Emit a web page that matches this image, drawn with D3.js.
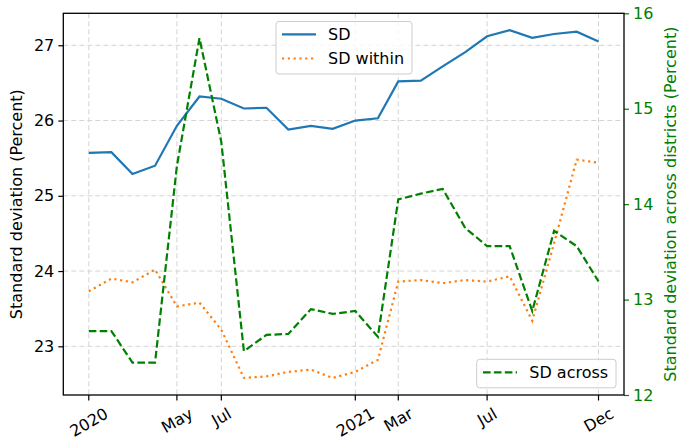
<!DOCTYPE html>
<html>
<head>
<meta charset="utf-8">
<script src="https://cdn.jsdelivr.net/npm/d3@7"></script>
<style>
  body { margin: 0; background: #fff; }
  svg { font-family: "DejaVu Sans", sans-serif; }
</style>
</head>
<body>
<div id="container"></div>
<script>
// monthly values
const months = ['2020-01', '2020-02', '2020-03', '2020-04', '2020-05', '2020-06',
  '2020-07', '2020-08', '2020-09', '2020-10', '2020-11', '2020-12',
  '2021-01', '2021-02', '2021-03', '2021-04', '2021-05', '2021-06',
  '2021-07', '2021-08', '2021-09', '2021-10', '2021-11', '2021-12']

const sd = [25.57, 25.58, 25.29, 25.40, 25.93, 26.32, 26.29, 26.16, 26.17, 25.88, 25.93, 25.89,
  26.00, 26.03, 26.52, 26.53, 26.72, 26.91, 27.12, 27.20, 27.10, 27.15, 27.18, 27.05]

const sdWithin = [23.73, 23.90, 23.85, 24.02, 23.53, 23.58, 23.22, 22.58, 22.60, 22.66, 22.69, 22.58,
  22.66, 22.82, 23.86, 23.88, 23.84, 23.88, 23.86, 23.93, 23.34, 24.37, 25.48, 25.44]

const sdAcross = [12.67, 12.67, 12.34, 12.34, 14.40, 15.74, 14.65, 12.46, 12.63, 12.64, 12.90, 12.85,
  12.88, 12.61, 14.05, 14.11, 14.16, 13.75, 13.56, 13.56, 12.88, 13.72, 13.56, 13.19]

const tickMonths = ['2020-01', '2020-05', '2020-07', '2021-01', '2021-03', '2021-07', '2021-12']
const tickLabels = ['2020', 'May', 'Jul', '2021', 'Mar', 'Jul', 'Dec']
const leftTicks = [23, 24, 25, 26, 27]
const rightTicks = [12, 13, 14, 15, 16]

const parseMonth = d3.timeParse('%Y-%m')

function displayChart() {
  const margin = { top: 13.3, right: 56, bottom: 45, left: 63.3 },
    W = 680, H = 440,
    width = W - margin.left - margin.right,
    height = H - margin.top - margin.bottom

  const dates = months.map(parseMonth)

  // matplotlib style 5% margins on the time axis
  const pad = 35
  const x = d3.scaleTime()
    .domain([d3.timeDay.offset(dates[0], -pad), d3.timeDay.offset(dates[dates.length - 1], pad)])
    .range([margin.left, margin.left + width])

  const yLeft = d3.scaleLinear()
    .domain([22.353, 27.425])
    .range([margin.top + height, margin.top])

  const yRight = d3.scaleLinear()
    .domain([12, 16])
    .range([margin.top + height, margin.top])

  const svg = d3.select('#container').append('svg')
    .attr('width', W)
    .attr('height', H)

  // grid
  const grid = svg.append('g').attr('id', 'grid')
  tickMonths.forEach(m => {
    grid.append('line')
      .attr('x1', x(parseMonth(m))).attr('x2', x(parseMonth(m)))
      .attr('y1', margin.top).attr('y2', margin.top + height)
      .attr('stroke', '#d4d4d4').attr('stroke-width', 1)
      .attr('stroke-dasharray', '5,3')
  })
  leftTicks.forEach(v => {
    grid.append('line')
      .attr('x1', margin.left).attr('x2', margin.left + width)
      .attr('y1', yLeft(v)).attr('y2', yLeft(v))
      .attr('stroke', '#d4d4d4').attr('stroke-width', 1)
      .attr('stroke-dasharray', '5,3')
  })

  // lines
  const lineLeft = d3.line()
    .x((d, i) => x(dates[i]))
    .y(d => yLeft(d))
  const lineRight = d3.line()
    .x((d, i) => x(dates[i]))
    .y(d => yRight(d))

  svg.append('path')
    .attr('d', lineLeft(sd))
    .attr('fill', 'none')
    .attr('stroke', '#1f77b4')
    .attr('stroke-width', 2.2)

  svg.append('path')
    .attr('d', lineLeft(sdWithin))
    .attr('fill', 'none')
    .attr('stroke', '#ff7f0e')
    .attr('stroke-width', 2.2)
    .attr('stroke-dasharray', '2.2,3.6')

  svg.append('path')
    .attr('d', lineRight(sdAcross))
    .attr('fill', 'none')
    .attr('stroke', 'green')
    .attr('stroke-width', 2.2)
    .attr('stroke-dasharray', '7.6,3.3')

  // axes
  const leftAxis = svg.append('g')
    .attr('transform', `translate(${margin.left},0)`)
    .call(d3.axisLeft(yLeft).tickValues(leftTicks).tickSize(5).tickPadding(4).tickFormat(d3.format('d')))
  leftAxis.select('.domain').remove()
  leftAxis.selectAll('text').attr('font-size', 16).attr('fill', '#000')
    .attr('font-family', '"DejaVu Sans", sans-serif')
  leftAxis.selectAll('line').attr('stroke-width', 1.2)

  const rightAxis = svg.append('g')
    .attr('transform', `translate(${margin.left + width},0)`)
    .call(d3.axisRight(yRight).tickValues(rightTicks).tickSize(5).tickPadding(4).tickFormat(d3.format('d')))
  rightAxis.select('.domain').remove()
  rightAxis.selectAll('text').attr('font-size', 16).attr('fill', 'green')
    .attr('font-family', '"DejaVu Sans", sans-serif')
  rightAxis.selectAll('line').attr('stroke', 'green').attr('stroke-width', 1.2)

  // bottom ticks with rotated labels
  const bottom = svg.append('g').attr('id', 'xaxis')
  tickMonths.forEach((m, i) => {
    const tx = x(parseMonth(m))
    bottom.append('line')
      .attr('x1', tx).attr('x2', tx)
      .attr('y1', margin.top + height).attr('y2', margin.top + height + 5.5)
      .attr('stroke', '#000').attr('stroke-width', 1.2)
    const t = bottom.append('text')
      .attr('font-size', 16)
      .attr('text-anchor', 'middle')
      .attr('dy', '0.36em')
      .attr('fill', '#000')
      .text(tickLabels[i])
    const w = t.node().getComputedTextLength()
    const cy = margin.top + height + 10 + (w * 0.5 + 16 * 0.866) / 2
    t.attr('transform', `translate(${tx},${cy}) rotate(-30)`)
  })

  // frame
  svg.append('rect')
    .attr('x', margin.left).attr('y', margin.top)
    .attr('width', width).attr('height', height)
    .attr('fill', 'none').attr('stroke', '#000').attr('stroke-width', 1.3)

  // axis titles
  svg.append('text')
    .attr('transform', `translate(16.5,${margin.top + height / 2}) rotate(-90)`)
    .attr('text-anchor', 'middle').attr('dy', '0.36em')
    .attr('font-size', 16).attr('fill', '#000')
    .text('Standard deviation (Percent)')

  svg.append('text')
    .attr('transform', `translate(670,${margin.top + height / 2}) rotate(-90)`)
    .attr('text-anchor', 'middle').attr('dy', '0.36em')
    .attr('font-size', 16).attr('fill', 'green')
    .text('Standard deviation across districts (Percent)')

  // legends
  const leg1 = svg.append('g')
  leg1.append('rect')
    .attr('x', 276).attr('y', 21.5).attr('width', 136).attr('height', 52.5).attr('rx', 3)
    .attr('fill', 'white').attr('fill-opacity', 0.8)
    .attr('stroke', '#cccccc').attr('stroke-width', 1)
  leg1.append('line')
    .attr('x1', 282).attr('x2', 316).attr('y1', 34.3).attr('y2', 34.3)
    .attr('stroke', '#1f77b4').attr('stroke-width', 2.2)
  leg1.append('text')
    .attr('x', 328).attr('y', 34.3).attr('dy', '0.36em')
    .attr('font-size', 16).attr('fill', '#000')
    .text('SD')
  leg1.append('line')
    .attr('x1', 282).attr('x2', 316).attr('y1', 58.5).attr('y2', 58.5)
    .attr('stroke', '#ff7f0e').attr('stroke-width', 2.2).attr('stroke-dasharray', '2.2,3.6')
  leg1.append('text')
    .attr('x', 328).attr('y', 58.7).attr('dy', '0.36em')
    .attr('font-size', 16).attr('fill', '#000')
    .text('SD within')

  const leg2 = svg.append('g')
  leg2.append('rect')
    .attr('x', 476.7).attr('y', 359.3).attr('width', 139.3).attr('height', 28.5).attr('rx', 3)
    .attr('fill', 'white').attr('fill-opacity', 0.8)
    .attr('stroke', '#cccccc').attr('stroke-width', 1)
  leg2.append('line')
    .attr('x1', 483).attr('x2', 517).attr('y1', 372.3).attr('y2', 372.3)
    .attr('stroke', 'green').attr('stroke-width', 2.2).attr('stroke-dasharray', '7.6,3.3')
  leg2.append('text')
    .attr('x', 529.3).attr('y', 372.3).attr('dy', '0.36em')
    .attr('font-size', 16).attr('fill', '#000')
    .text('SD across')
}

displayChart()
</script>
</body>
</html>
